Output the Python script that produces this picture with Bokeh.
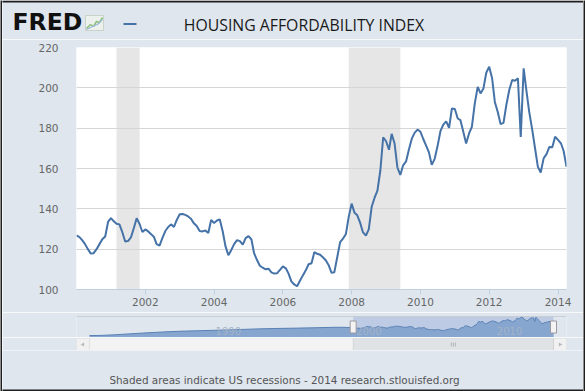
import math
import pandas as pd
from bokeh.plotting import figure
from bokeh.models import (Range1d, BoxAnnotation, FixedTicker, DatetimeTickFormatter,
                          Span, Label)
from bokeh.layouts import column, row
from bokeh.embed import file_html
from bokeh.resources import INLINE
from bokeh.core.properties import value

# ---------------- data ----------------
TITLE = "HOUSING AFFORDABILITY INDEX"
FOOTER = "Shaded areas indicate US recessions - 2014 research.stlouisfed.org"
LOGO = "FRED"

series_start = "2000-01-01"   # monthly observations
hai_2000 = [126.8, 126.0, 124.5, 122.5, 120.0, 117.8, 118.0, 120.0, 122.5, 124.9, 126.3, 133.5]
hai_2001 = [135.4, 133.8, 132.6, 132.3, 128.5, 123.8, 124.0, 125.8, 130.5, 135.3, 132.5, 128.5]
hai_2002 = [129.8, 128.8, 127.5, 126.2, 122.5, 121.8, 125.5, 129.0, 131.0, 132.3, 131.0, 134.5]
hai_2003 = [137.3, 137.4, 137.0, 136.2, 135.1, 132.8, 131.5, 129.0, 128.8, 129.3, 128.0, 134.5]
hai_2004 = [133.0, 134.2, 134.8, 129.0, 121.5, 117.0, 119.5, 122.5, 124.5, 124.0, 122.3, 125.5]
hai_2005 = [126.5, 124.8, 118.0, 114.6, 111.8, 110.8, 110.0, 110.3, 108.5, 107.9, 108.1, 109.7]
hai_2006 = [111.5, 110.5, 108.0, 104.0, 102.5, 101.6, 104.3, 107.0, 109.5, 112.5, 113.0, 118.5]
hai_2007 = [117.7, 117.2, 116.0, 114.5, 112.2, 108.3, 108.5, 116.0, 123.5, 125.2, 127.5, 136.0]
hai_2008 = [142.6, 138.0, 136.8, 133.0, 128.3, 126.8, 129.8, 141.0, 145.5, 149.0, 159.0, 175.5]
hai_2009 = [173.5, 169.3, 177.2, 172.4, 160.5, 156.8, 161.6, 163.5, 169.5, 174.8, 177.8, 179.3]
hai_2010 = [178.2, 174.5, 171.5, 168.0, 161.8, 164.8, 171.0, 178.5, 181.8, 183.4, 180.2, 189.8]
hai_2011 = [189.5, 184.8, 184.0, 178.2, 172.4, 177.4, 180.6, 192.3, 200.5, 197.2, 199.7, 207.5]
hai_2012 = [210.5, 204.7, 193.0, 188.0, 182.0, 182.6, 191.5, 198.9, 203.9, 203.5, 204.7, 175.7]
hai_2013 = [209.7, 198.0, 188.1, 179.5, 170.3, 160.8, 158.0, 165.0, 167.1, 170.7, 170.5, 175.8]
hai_2014 = [174.2, 172.5, 168.8, 160.8]

# earlier history, only shown in the navigator (read coarsely)
nav_hist_dates = ["1981-04-01", "1982-01-01", "1983-01-01", "1984-01-01", "1985-01-01",
                  "1986-01-01", "1987-01-01", "1988-01-01", "1989-01-01", "1990-01-01",
                  "1991-01-01", "1992-01-01", "1993-01-01", "1994-01-01", "1995-01-01",
                  "1996-01-01", "1997-01-01", "1998-01-01", "1999-01-01"]
nav_hist_values = [62, 63, 68, 75, 82, 88, 94, 98, 101, 104,
                   107, 111, 115, 118, 120, 122, 124, 127, 129]

recession_starts = ["2001-03-01", "2007-12-01"]
recession_ends = ["2001-11-01", "2009-06-01"]

y_ticks = [100, 120, 140, 160, 180, 200, 220]
x_tick_years = [2002, 2004, 2006, 2008, 2010, 2012, 2014]
nav_tick_years = [1990, 2000, 2010]

# ---------------- styling ----------------
W, H = 585, 391
EDGE = 2                      # dark outer frame width
IW = W - 2 * EDGE             # inner width
BG = "#dfe6ee"
LINE = "#4572a7"
GRID = "#d6d6d6"
AXIS = "#c0d0e0"
LABEL = "#666666"
FONT = "DejaVu Sans"
FRAME = "#1e1e1e"
PLOT_L, PLOT_R = 76, 566      # page pixels of the plot area


def ms(d):
    return pd.Timestamp(d).value / 1e6


values = (hai_2000 + hai_2001 + hai_2002 + hai_2003 + hai_2004 + hai_2005 + hai_2006 +
          hai_2007 + hai_2008 + hai_2009 + hai_2010 + hai_2011 + hai_2012 + hai_2013 + hai_2014)
dates = [ms(d) for d in pd.date_range(series_start, periods=len(values), freq="MS")]


def base_fig(height, width=IW, **kw):
    return figure(width=width, height=height, output_backend="svg", toolbar_location=None,
                  border_fill_color=BG, outline_line_color=None, **kw)


BL = PLOT_L - EDGE            # canvas borders inside the inner column
BR = (W - EDGE) - PLOT_R

# ---------------- header (data units = page pixels) ----------------
HH = 39
hdr = base_fig(HH, x_range=Range1d(EDGE, W - EDGE), y_range=Range1d(HH, 0), frame_align=False,
               x_axis_location=None, y_axis_location=None,
               min_border_left=0, min_border_right=0, min_border_top=0, min_border_bottom=0,
               background_fill_color=BG)
hdr.grid.visible = False
hdr.quad(left=[0], right=[W], top=[0], bottom=[EDGE], fill_color=FRAME, line_color=None)
hdr.text(x=[12], y=[21.5], text=[LOGO], text_font=value(FONT), text_font_style="bold",
         text_font_size="23.5px", text_color="#111111", text_baseline="middle", text_align="left")
# small chart icon beside the logo
hdr.quad(left=[85], right=[103], top=[15], bottom=[30], fill_color="#edf1ed",
         line_color="#c9d3c9", line_width=1)
hdr.line(x=[86, 90, 93, 96, 99, 102], y=[28, 24, 26, 21, 22, 17], line_color="#8cc07a", line_width=1.5)
hdr.line(x=[86, 90, 94, 97, 102], y=[29, 27, 25, 24, 19], line_color="#9ab6da", line_width=1.2)
# legend symbol
hdr.segment(x0=[123], y0=[23.5], x1=[136], y1=[23.5], line_color=LINE, line_width=2)
hdr.text(x=[303.5], y=[24.6], text=[TITLE], text_font=value("Open Sans"), text_font_size="15.8px",
         text_color="#1a1a1a", text_baseline="middle", text_align="center")

# ---------------- main chart ----------------
MH = 273
main = base_fig(MH, x_axis_type="datetime",
                x_range=Range1d(dates[0], dates[-1]), y_range=Range1d(y_ticks[0], y_ticks[-1]),
                min_border_left=BL, min_border_right=BR, min_border_top=8,
                min_border_bottom=23, background_fill_color="white")
for s, e in zip(recession_starts, recession_ends):
    main.add_layout(BoxAnnotation(left=ms(s), right=ms(e), fill_color="#e6e6e6", fill_alpha=1.0,
                                  line_color=None, level="image"))
main.line(dates, values, line_color=LINE, line_width=2)

main.xgrid.visible = False
main.ygrid.grid_line_color = GRID
main.ygrid.grid_line_width = 1

xa = main.xaxis[0]
xa.ticker = FixedTicker(ticks=[ms(f"{y}-01-01") for y in x_tick_years])
xa.formatter = DatetimeTickFormatter(years="%Y", months="%Y", days="%Y", hours="%Y")
xa.axis_line_color = AXIS
xa.major_tick_line_color = AXIS
xa.major_tick_out = 5
xa.major_tick_in = 0
xa.minor_tick_line_color = None
xa.major_label_standoff = 3
xa.major_label_text_font = FONT
xa.major_label_text_font_size = "10.5px"
xa.major_label_text_color = LABEL

ya = main.yaxis[0]
ya.ticker = FixedTicker(ticks=y_ticks)
ya.axis_line_color = None
ya.major_tick_line_color = None
ya.minor_tick_line_color = None
ya.major_label_standoff = 12
ya.major_label_text_font = FONT
ya.major_label_text_font_size = "10.5px"
ya.major_label_text_color = LABEL

# ---------------- navigator ----------------
nav_dates = [ms(d) for d in nav_hist_dates] + dates
nav_values = nav_hist_values + values
nav_span = nav_dates[-1] - nav_dates[0]
pad = nav_span * 13 / (PLOT_R - PLOT_L - 26)      # room for the scrollbar buttons
nav_x = Range1d(nav_dates[0] - pad, nav_dates[-1] + pad)
vmin, vmax = min(nav_values), max(nav_values)
vs = vmax - vmin
nav_y = Range1d(vmin - 0.105 * vs, vmax + 0.035 * vs)

NH = 25
nav = base_fig(NH, x_range=nav_x, y_range=nav_y, x_axis_location=None, y_axis_location=None,
               min_border_left=BL, min_border_right=BR, min_border_top=4,
               min_border_bottom=0, background_fill_color=BG)
nav.grid.visible = False
nav.add_layout(BoxAnnotation(left=dates[0], right=dates[-1], fill_color="#6f93cc", fill_alpha=0.3,
                             line_color=None, level="image"))
nav.varea(x=nav_dates, y1=[nav_y.start] * len(nav_dates), y2=nav_values,
          fill_color="#86a5cf", fill_alpha=1.0)
nav.line(nav_dates, nav_values, line_color="#5a82b5", line_width=1)
nav.add_layout(Span(location=nav_y.end, dimension="width", line_color="#b2b1b6", line_width=1))
for yr in nav_tick_years:
    nav.add_layout(Label(x=ms(f"{yr}-01-01"), y=nav_y.start + (nav_y.end - nav_y.start) / 3,
                         x_offset=3, text=str(yr), text_font=FONT, text_font_size="10px",
                         text_color="#a4b3c6", text_baseline="middle"))
hy = (nav_y.start + nav_y.end) / 2
nav.rect(x=[dates[0], dates[-1]], y=[hy, hy], width=6, height=12,
         width_units="screen", height_units="screen", fill_color="#f4f2f2", line_color="#9a9aa0")

# ---------------- scrollbar ----------------
SH = 13
scr = base_fig(SH, x_range=nav_x, y_range=Range1d(0, 1), x_axis_location=None, y_axis_location=None,
               min_border_left=BL, min_border_right=BR, min_border_top=1,
               min_border_bottom=0, background_fill_color="#f3f3f3")
scr.grid.visible = False
scr.add_layout(BoxAnnotation(left=nav_x.start, right=nav_x.end, fill_color="#f3f3f3",
                             line_color="#cccccc", line_width=1))
scr.add_layout(BoxAnnotation(left=dates[0], right=dates[-1], fill_color="#c4cad2",
                             line_color="#b0b0b0", line_width=1))
scr.add_layout(BoxAnnotation(left=nav_x.start, right=nav_dates[0], fill_color="#f0eeee",
                             line_color="#bbbbbb", line_width=1))
scr.add_layout(BoxAnnotation(left=nav_dates[-1], right=nav_x.end, fill_color="#f0eeee",
                             line_color="#bbbbbb", line_width=1))
scr.scatter(x=[(nav_x.start + nav_dates[0]) / 2, (nav_dates[-1] + nav_x.end) / 2], y=[0.5, 0.5],
            marker="triangle", angle=[math.pi / 2, -math.pi / 2], size=4,
            fill_color="#555555", line_color=None)
px_ms = (nav_x.end - nav_x.start) / (PLOT_R - PLOT_L)
mid = (dates[0] + dates[-1]) / 2
scr.scatter(x=[mid - 2 * px_ms, mid, mid + 2 * px_ms], y=[0.5] * 3, marker="dash", angle=math.pi / 2,
            size=4, line_color="#777777", line_width=1)

# ---------------- footer (data units = page pixels) ----------------
F0 = HH + MH + NH + SH
ftr = base_fig(H - F0, x_range=Range1d(EDGE, W - EDGE), y_range=Range1d(H, F0), frame_align=False,
               x_axis_location=None, y_axis_location=None,
               min_border_left=0, min_border_right=0, min_border_top=0, min_border_bottom=0,
               background_fill_color=BG)
ftr.grid.visible = False
ftr.quad(left=[0], right=[W], top=[H - EDGE], bottom=[H], fill_color=FRAME, line_color=None)
ftr.text(x=[284], y=[379.6], text=[FOOTER], text_font=value(FONT), text_font_size="10.4px",
         text_color="#555555", text_baseline="middle", text_align="center")


# ---------------- dark left / right edges ----------------
def edge():
    e = figure(width=EDGE, height=H, output_backend="svg", toolbar_location=None,
               x_axis_location=None, y_axis_location=None, frame_align=False,
               min_border_left=0, min_border_right=0, min_border_top=0, min_border_bottom=0,
               background_fill_color=FRAME, border_fill_color=FRAME, outline_line_color=None)
    e.grid.visible = False
    return e


inner = column(hdr, main, nav, scr, ftr, spacing=0)
layout = row(edge(), inner, edge(), spacing=0)
open("out.html", "w").write(file_html(layout, INLINE))
